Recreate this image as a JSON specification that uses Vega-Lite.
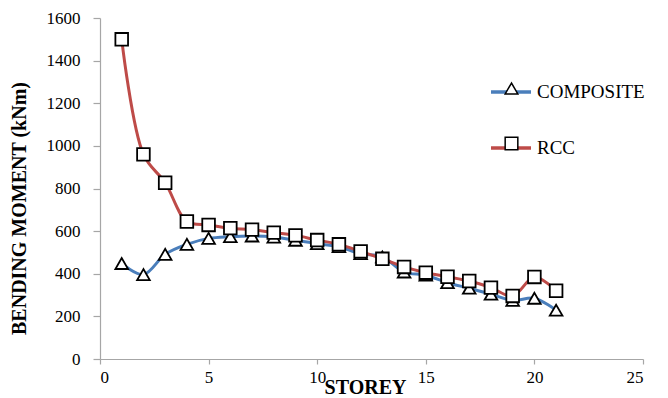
{
  "$schema": "https://vega.github.io/schema/vega-lite/v6.json",
  "width": 543,
  "height": 341,
  "autosize": {"type": "none"},
  "padding": {"left": 100, "top": 18, "right": 25, "bottom": 39},
  "background": "white",
  "config": {
    "view": {"stroke": null},
    "font": "Times New Roman",
    "axis": {
      "grid": false,
      "domainColor": "#A6A6A6",
      "tickColor": "#A6A6A6",
      "domainWidth": 1.2,
      "tickWidth": 1.2,
      "labelColor": "#000000",
      "labelFont": "Times New Roman",
      "labelFontSize": 17,
      "titleFont": "Times New Roman",
      "titleFontSize": 20,
      "titleFontWeight": "bold",
      "titleColor": "#000000"
    },
    "legend": {"labelFont": "Times New Roman", "labelFontSize": 19, "labelColor": "#000000"}
  },
  "data": {
    "values": [
      {"storey": 1, "type": "COMPOSITE", "moment": 448},
      {"storey": 2, "type": "COMPOSITE", "moment": 396},
      {"storey": 3, "type": "COMPOSITE", "moment": 491},
      {"storey": 4, "type": "COMPOSITE", "moment": 538},
      {"storey": 5, "type": "COMPOSITE", "moment": 566},
      {"storey": 6, "type": "COMPOSITE", "moment": 574},
      {"storey": 7, "type": "COMPOSITE", "moment": 577},
      {"storey": 8, "type": "COMPOSITE", "moment": 572},
      {"storey": 9, "type": "COMPOSITE", "moment": 557},
      {"storey": 10, "type": "COMPOSITE", "moment": 541},
      {"storey": 11, "type": "COMPOSITE", "moment": 527},
      {"storey": 12, "type": "COMPOSITE", "moment": 494},
      {"storey": 13, "type": "COMPOSITE", "moment": 479},
      {"storey": 14, "type": "COMPOSITE", "moment": 408},
      {"storey": 15, "type": "COMPOSITE", "moment": 393},
      {"storey": 16, "type": "COMPOSITE", "moment": 358},
      {"storey": 17, "type": "COMPOSITE", "moment": 332},
      {"storey": 18, "type": "COMPOSITE", "moment": 304},
      {"storey": 19, "type": "COMPOSITE", "moment": 275},
      {"storey": 20, "type": "COMPOSITE", "moment": 285},
      {"storey": 21, "type": "COMPOSITE", "moment": 229},
      {"storey": 1, "type": "RCC", "moment": 1500},
      {"storey": 2, "type": "RCC", "moment": 960},
      {"storey": 3, "type": "RCC", "moment": 827},
      {"storey": 4, "type": "RCC", "moment": 645},
      {"storey": 5, "type": "RCC", "moment": 629},
      {"storey": 6, "type": "RCC", "moment": 614},
      {"storey": 7, "type": "RCC", "moment": 607},
      {"storey": 8, "type": "RCC", "moment": 593},
      {"storey": 9, "type": "RCC", "moment": 580},
      {"storey": 10, "type": "RCC", "moment": 558},
      {"storey": 11, "type": "RCC", "moment": 538},
      {"storey": 12, "type": "RCC", "moment": 505},
      {"storey": 13, "type": "RCC", "moment": 470},
      {"storey": 14, "type": "RCC", "moment": 432},
      {"storey": 15, "type": "RCC", "moment": 405},
      {"storey": 16, "type": "RCC", "moment": 386},
      {"storey": 17, "type": "RCC", "moment": 366},
      {"storey": 18, "type": "RCC", "moment": 335},
      {"storey": 19, "type": "RCC", "moment": 296},
      {"storey": 20, "type": "RCC", "moment": 385},
      {"storey": 21, "type": "RCC", "moment": 320}
    ]
  },
  "transform": [{"calculate": "datum.type", "as": "marker"}],
  "encoding": {
    "x": {
      "field": "storey",
      "type": "quantitative",
      "scale": {"domain": [0, 25], "nice": false},
      "axis": {
        "values": [0, 5, 10, 15, 20, 25],
        "format": "d",
        "title": "STOREY",
        "tickSize": 5,
        "labelPadding": 5,
        "titleX": 265,
        "titleY": 34,
        "titleBaseline": "alphabetic",
        "titleAlign": "center"
      }
    },
    "y": {
      "field": "moment",
      "type": "quantitative",
      "scale": {"domain": [0, 1600], "nice": false},
      "axis": {
        "values": [0, 200, 400, 600, 800, 1000, 1200, 1400, 1600],
        "format": "d",
        "title": "BENDING MOMENT (kNm)",
        "tickSize": 7,
        "labelPadding": 13,
        "titleX": -81,
        "titleY": 190,
        "titleAngle": 270,
        "titleAlign": "center",
        "titleBaseline": "middle"
      }
    }
  },
  "layer": [
    {
      "mark": {"type": "line", "interpolate": "catmull-rom", "strokeWidth": 3},
      "encoding": {
        "color": {
          "field": "type",
          "type": "nominal",
          "scale": {"range": ["#4A7EBB", "#BE4B48"]},
          "legend": {
            "title": null,
            "orient": "none",
            "legendX": 389,
            "legendY": 52,
            "symbolType": "stroke",
            "symbolSize": 1600,
            "symbolStrokeWidth": 3.5,
            "labelOffset": 4,
            "rowPadding": 24
          }
        }
      }
    },
    {
      "mark": {"type": "point", "filled": true, "fill": "white", "stroke": "black", "strokeWidth": 1.8, "size": 160, "opacity": 1},
      "encoding": {
        "shape": {
          "field": "marker",
          "type": "nominal",
          "scale": {"range": ["triangle-up", "square"]},
          "legend": {
            "title": null,
            "orient": "none",
            "legendX": 403,
            "legendY": 62,
            "symbolSize": 160,
            "labelFontSize": 17,
            "labelExpr": "''",
            "labelOffset": 17,
            "rowPadding": 37,
            "encode": {
              "symbols": {
                "update": {
                  "fill": {"value": "white"},
                  "stroke": {"value": "black"},
                  "strokeWidth": {"value": 1.5},
                  "opacity": {"value": 1}
                }
              }
            }
          }
        }
      }
    }
  ]
}
